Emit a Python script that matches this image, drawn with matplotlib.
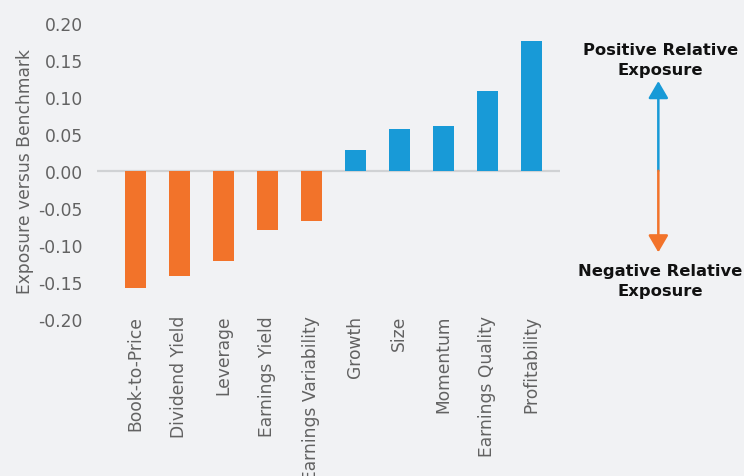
import matplotlib
matplotlib.use("Agg")
import matplotlib.pyplot as plt
import numpy as np

categories = ["Book-to-Price", "Dividend Yield", "Leverage", "Earnings Yield",
              "Earnings Variability", "Growth", "Size", "Momentum",
              "Earnings Quality", "Profitability"]
values = [-0.158, -0.142, -0.122, -0.080, -0.068, 0.028, 0.056, 0.060, 0.107, 0.175]
yticks = [0.20, 0.15, 0.10, 0.05, 0.00, -0.05, -0.10, -0.15, -0.20]
ytick_labels = ["0.20", "0.15", "0.10", "0.05", "0.00", "-0.05", "-0.10", "-0.15", "-0.20"]

BG = "#F1F2F4"
ORANGE = "#F2732A"
BLUE = "#189AD7"
GRAY_TXT = "#626262"

fig = plt.figure(figsize=(7.44, 4.77), dpi=100, facecolor=BG)
ax = fig.add_axes([0.130, 0.329, 0.623, 0.6217])
ax.set_facecolor(BG)

x = np.arange(len(categories))
colors = [ORANGE if v < 0 else BLUE for v in values]
ax.bar(x, values, width=0.47, color=colors, zorder=2)
ax.axhline(0, color="#D0D2D4", lw=1.6, zorder=1)

ax.set_xlim(-0.876, 9.66)
ax.set_ylim(-0.20, 0.20)
ax.set_yticks(yticks)
ax.set_yticklabels(ytick_labels, fontsize=12.3, color=GRAY_TXT)
ax.set_xticks(x)
ax.set_xticklabels(categories, rotation=90, fontsize=12.3, color=GRAY_TXT)
ax.tick_params(axis="y", length=0, pad=10)
ax.tick_params(axis="x", length=0, pad=-3)
for s in ax.spines.values():
    s.set_visible(False)
ax.set_ylabel("Exposure versus Benchmark", fontsize=12.3, color=GRAY_TXT, labelpad=3)

# Annotation arrows
ax_x = 11.89
ax.annotate("", xy=(ax_x, 0.121), xytext=(ax_x, 0.0),
            arrowprops=dict(arrowstyle="-|>,head_length=0.65,head_width=0.38",
                            color=BLUE, lw=1.8, mutation_scale=16,
                            shrinkA=0, shrinkB=0),
            annotation_clip=False)
ax.annotate("", xy=(ax_x, -0.110), xytext=(ax_x, 0.0),
            arrowprops=dict(arrowstyle="-|>,head_length=0.65,head_width=0.38",
                            color=ORANGE, lw=1.8, mutation_scale=16,
                            shrinkA=0, shrinkB=0),
            annotation_clip=False)
ax.text(ax_x + 0.05, 0.150, "Positive Relative\nExposure", ha="center", va="center",
        fontsize=11.8, fontweight="bold", color="#111111", linespacing=1.45, clip_on=False)
ax.text(ax_x + 0.05, -0.148, "Negative Relative\nExposure", ha="center", va="center",
        fontsize=11.8, fontweight="bold", color="#111111", linespacing=1.45, clip_on=False)

fig.savefig("out.png", dpi=100, facecolor=BG)
